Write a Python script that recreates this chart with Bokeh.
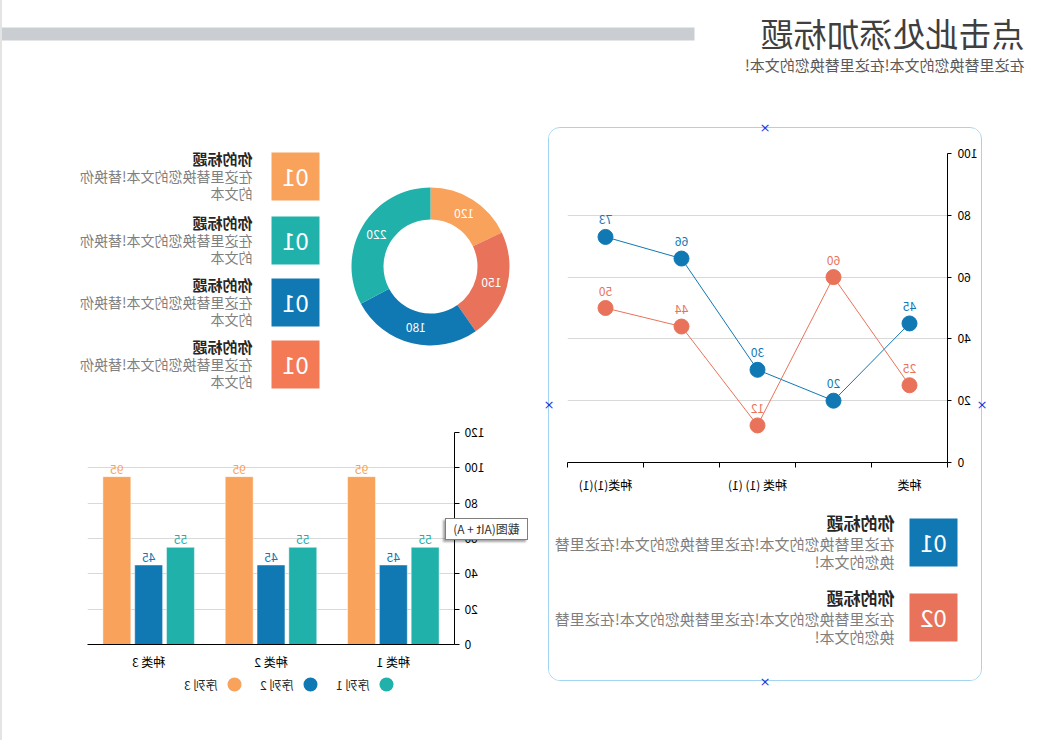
import math
from bokeh.plotting import figure
from bokeh.layouts import column, row
from bokeh.models import Range1d, FixedTicker, Spacer, Div
from bokeh.core.properties import value
from bokeh.embed import file_html
from bokeh.resources import INLINE

FONT = "Noto Sans CJK SC"

# ---------------- data ----------------
title_text = "点击此处添加标题"
subtitle_text = "在这里替换您的文本!在这里替换您的文本!"

bullet_numbers = ["01", "01", "01", "01"]
bullet_colors = ["#F8A25B", "#21B1AB", "#1078B3", "#F47A56"]
bullet_titles = ["你的标题", "你的标题", "你的标题", "你的标题"]
bullet_line1 = ["在这里替换您的文本!替换你"] * 4
bullet_line2 = ["的文本"] * 4

donut_values = [120, 150, 180, 220]
donut_colors = ["#F8A25B", "#E8735A", "#1078B3", "#21B1AB"]

line_categories = ["种类", "种类(1)", "种类 (1) (1)", "种类(1)(1)(1)", "种类(1)(1)"]
line_series_a = [45, 20, 30, 66, 73]
line_series_b = [25, 60, 12, 44, 50]
line_colors = ["#1078B3", "#E8735A"]
line_ticks = [0, 20, 40, 60, 80, 100]

panel_numbers = ["01", "02"]
panel_colors = ["#1078B3", "#E8735A"]
panel_titles = ["你的标题", "你的标题"]
panel_line1 = ["在这里替换您的文本!在这里替换您的文本!在这里替"] * 2
panel_line2 = ["换您的文本!"] * 2

bar_categories = ["种类 1", "种类 2", "种类 3"]
bar_series_names = ["序列 1", "序列 2", "序列 3"]
bar_series_1 = [55, 55, 55]
bar_series_2 = [45, 45, 45]
bar_series_3 = [95, 95, 95]
bar_colors = ["#21B1AB", "#1078B3", "#F8A25B"]
bar_ticks = [0, 20, 40, 60, 80, 100, 120]

tooltip_text = "截图(Alt + A)"


# ---------------- helpers ----------------
def canvas(w, h):
    p = figure(width=w, height=h, x_range=Range1d(0, w), y_range=Range1d(0, h),
               toolbar_location=None, output_backend="svg", min_border=0,
               x_axis_location=None, y_axis_location=None, outline_line_color=None,
               frame_align=False)
    p.grid.visible = False
    return p


def txt(p, h, xs, ys_top, texts, size, color, bold=False, align="left"):
    p.text(x=xs, y=[h - y for y in ys_top], text=texts,
           text_font=value(FONT), text_font_size=f"{size}px", text_color=color,
           text_align=align, text_baseline="middle",
           text_font_style="bold" if bold else "normal")


# ---------------- header ----------------
HW, HH = 1055, 120
hdr = canvas(HW, HH)
hdr.quad(left=[362], right=[HW], top=[HH - 27], bottom=[HH - 40],
         fill_color="#CACDD1", line_color=None)
txt(hdr, HH, [32], [32], [title_text], 33, "#3F3F3F")
txt(hdr, HH, [32], [64], [subtitle_text], 15, "#595959")

# ---------------- bullets + donut ----------------
BW, BH = 538, 295
bf = canvas(BW, BH)
sq_tops = [32, 96, 158, 220]
bf.quad(left=[220] * 4, right=[268] * 4, top=[BH - t for t in sq_tops],
        bottom=[BH - t - 48 for t in sq_tops], fill_color=bullet_colors, line_color=None)
txt(bf, BH, [244] * 4, [t + 24 for t in sq_tops], bullet_numbers, 24, "white", align="center")
txt(bf, BH, [287] * 4, [t + 6 for t in sq_tops], bullet_titles, 15, "#262626", bold=True)
txt(bf, BH, [287] * 4, [t + 23 for t in sq_tops], bullet_line1, 14, "#7F7F7F")
txt(bf, BH, [287] * 4, [t + 40 for t in sq_tops], bullet_line2, 14, "#7F7F7F")

total = sum(donut_values)
starts, ends, mids = [], [], []
cum = 0
for v in donut_values:
    starts.append(math.pi / 2 + 2 * math.pi * cum / total)
    mids.append(math.pi / 2 + 2 * math.pi * (cum + v / 2) / total)
    cum += v
    ends.append(math.pi / 2 + 2 * math.pi * cum / total)
cx, cy = 109, BH - 146
bf.annular_wedge(x=cx, y=cy, inner_radius=47, outer_radius=79,
                 start_angle=starts, end_angle=ends,
                 fill_color=donut_colors, line_color=None)
bf.text(x=[cx + 63 * math.cos(a) for a in mids], y=[cy + 63 * math.sin(a) for a in mids],
        text=[str(v) for v in donut_values], text_font=value(FONT), text_font_size="12px",
        text_color="white", text_align="center", text_baseline="middle")

# ---------------- line chart ----------------
lp = figure(width=432, height=372, x_range=Range1d(0, len(line_categories)), y_range=Range1d(0, 100),
            toolbar_location=None, output_backend="svg", outline_line_color=None, frame_align=False,
            min_border_left=33, min_border_right=19, min_border_top=25, min_border_bottom=38)
lp.xgrid.visible = False
lp.ygrid.ticker = FixedTicker(ticks=line_ticks)
lp.ygrid.grid_line_color = "#D9D9D9"
shown = [0, 2, 4]
lp.xaxis.ticker = FixedTicker(ticks=[i + 0.5 for i in shown],
                              minor_ticks=list(range(len(line_categories) + 1)))
lp.xaxis.major_label_overrides = {i + 0.5: line_categories[i] for i in shown}
lp.xaxis.major_tick_out = 0
lp.xaxis.major_tick_in = 0
lp.xaxis.minor_tick_out = 5
lp.xaxis.minor_tick_in = 0
lp.xaxis.major_label_standoff = 8
lp.yaxis.ticker = FixedTicker(ticks=line_ticks)
lp.yaxis.major_tick_out = 4
lp.yaxis.major_tick_in = 0
lp.yaxis.major_label_standoff = 6
for ax in (lp.xaxis[0], lp.yaxis[0]):
    ax.axis_line_color = "black"
    ax.major_tick_line_color = "black"
    ax.minor_tick_line_color = "black"
    ax.major_label_text_font = FONT
    ax.major_label_text_font_size = "12px"
    ax.major_label_text_color = "#000000"

lx = [i + 0.5 for i in range(len(line_categories))]
for vals, col in zip([line_series_a, line_series_b], line_colors):
    lp.line(lx, vals, line_color=col, line_width=1)
for vals, col in zip([line_series_a, line_series_b], line_colors):
    lp.scatter(lx, vals, size=15, fill_color=col, line_color=col)
    lp.text(lx, vals, text=[str(v) for v in vals], y_offset=-17, text_font=value(FONT),
            text_font_size="12px", text_color=col, text_align="center", text_baseline="middle")

# ---------------- panel texts ----------------
TW, TH = 432, 180
tf = canvas(TW, TH)
ptops = [18, 93]
tf.quad(left=[23] * 2, right=[71] * 2, top=[TH - t for t in ptops], bottom=[TH - t - 48 for t in ptops],
        fill_color=panel_colors, line_color=None)
txt(tf, TH, [47] * 2, [t + 24 for t in ptops], panel_numbers, 24, "white", align="center")
txt(tf, TH, [86] * 2, [t + 4 for t in ptops], panel_titles, 17, "#262626", bold=True)
txt(tf, TH, [86] * 2, [t + 25 for t in ptops], panel_line1, 15, "#7F7F7F")
txt(tf, TH, [86] * 2, [t + 43 for t in ptops], panel_line2, 15, "#7F7F7F")

# ---------------- bar chart ----------------
bp = figure(width=538, height=257, x_range=Range1d(0, len(bar_categories)), y_range=Range1d(0, 120),
            toolbar_location=None, output_backend="svg", outline_line_color=None, frame_align=False,
            min_border_left=85, min_border_right=86, min_border_top=17, min_border_bottom=24)
bp.xgrid.visible = False
bp.ygrid.ticker = FixedTicker(ticks=bar_ticks)
bp.ygrid.grid_line_color = "#D9D9D9"
bp.xaxis.ticker = FixedTicker(ticks=[i + 0.5 for i in range(len(bar_categories))])
bp.xaxis.major_label_overrides = {i + 0.5: c for i, c in enumerate(bar_categories)}
bp.xaxis.major_tick_out = 0
bp.xaxis.major_tick_in = 0
bp.xaxis.major_label_standoff = 8
bp.yaxis.ticker = FixedTicker(ticks=bar_ticks)
bp.yaxis.major_tick_out = 5
bp.yaxis.major_tick_in = 0
bp.yaxis.minor_tick_out = 0
bp.yaxis.major_label_standoff = 5
for ax in (bp.xaxis[0], bp.yaxis[0]):
    ax.axis_line_color = "black"
    ax.major_tick_line_color = "black"
    ax.major_label_text_font = FONT
    ax.major_label_text_font_size = "12px"
    ax.major_label_text_color = "#000000"

offsets = [-0.26, 0.0, 0.26]
for vals, col, off in zip([bar_series_1, bar_series_2, bar_series_3], bar_colors, offsets):
    xs = [i + 0.5 + off for i in range(len(bar_categories))]
    bp.vbar(x=xs, top=vals, bottom=0, width=0.228, fill_color=col,
            line_color="white", line_alpha=0.45, line_width=1)
    bp.text(xs, vals, text=[str(v) for v in vals], y_offset=-3, text_font=value(FONT),
            text_font_size="12px", text_color=col, text_align="center", text_baseline="bottom")

# ---------------- legend ----------------
LW, LH = 538, 28
lg = canvas(LW, LH)
lg_x = [153 + 76 * k for k in range(len(bar_series_names))]
lg.scatter(x=lg_x, y=[LH - 12] * 3, size=14, fill_color=bar_colors, line_color=None)
txt(lg, LH, [x + 17 for x in lg_x], [12] * 3, bar_series_names, 12, "#262626")

# ---------------- overlay notes (screenshot tooltip, selection handles) ----------------
tip = Div(text=tooltip_text, width=83, height=22,
          styles={"position": "absolute", "left": "524px", "top": "513px",
                  "box-sizing": "border-box", "border": "1px solid #7F7F7F",
                  "background-color": "white", "box-shadow": "2px 2px 2px rgba(0,0,0,0.35)",
                  "font-family": FONT, "font-size": "12px", "color": "#333333",
                  "line-height": "20px", "text-align": "center", "white-space": "nowrap",
                  "z-index": "10"})
handle_pos = [(293, 127), (509, 404), (76, 404), (293, 681)]
handles = [Div(text="×", width=12, height=14,
               styles={"position": "absolute", "left": f"{x - 12}px", "top": f"{y - 11}px",
                       "font-family": "DejaVu Sans", "font-size": "13px", "color": "#2233DD",
                       "line-height": "14px", "text-align": "center", "z-index": "10"})
           for x, y in handle_pos]

# ---------------- layout ----------------
panel = column(lp, tf, styles={"border": "1px solid #A3D5F2", "border-radius": "12px",
                               "overflow": "hidden"})
right_part = column(Spacer(width=517, height=7),
                    row(Spacer(width=75, height=554), panel, Spacer(width=8, height=554)))
left_part = column(bf, bp, lg)
body = row(right_part, left_part)
main = column(hdr, body)
edge = Spacer(width=2, height=740, styles={"background-color": "#E4E4E4"})
root = row(main, edge, tip, *handles, styles={"transform": "scaleX(-1)"})

open("out.html", "w").write(file_html(root, INLINE))
